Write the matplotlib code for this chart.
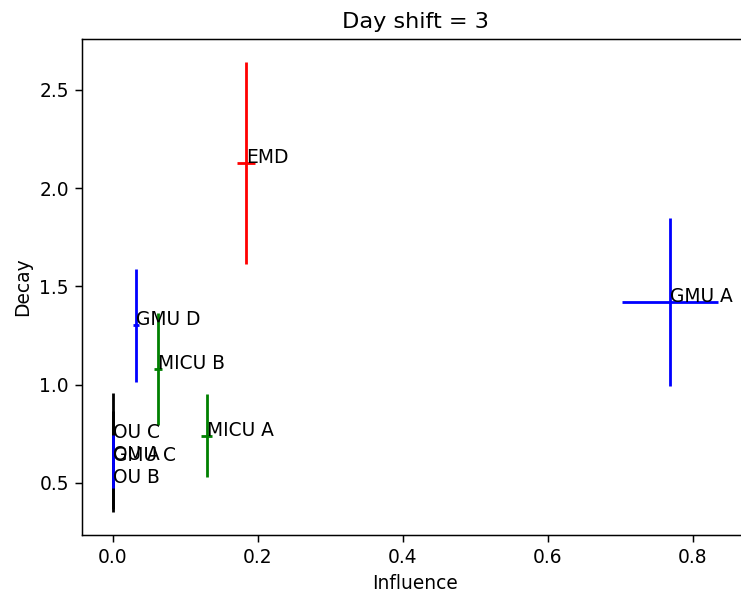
import matplotlib
matplotlib.use("Agg")
import matplotlib.pyplot as plt

names = ["OU A", "OU B", "OU C", "EMD", "GMU A", "GMU C", "GMU D", "MICU A", "MICU B"]
influence = [0.0, 0.0, 0.0, 0.183, 0.768, 0.0, 0.032, 0.129, 0.062]
decay = [0.615, 0.50, 0.73, 2.129, 1.419, 0.61, 1.302, 0.740, 1.079]
influence_err = [0.0, 0.0, 0.0, 0.0126, 0.066, 0.002, 0.004, 0.007, 0.006]
decay_err = [0.25, 0.15, 0.23, 0.513, 0.427, 0.135, 0.287, 0.211, 0.285]
colors = ["black", "black", "black", "red", "blue", "blue", "blue", "green", "green"]

DPI = 134
fig = plt.figure(figsize=(741 / DPI, 600 / DPI), dpi=DPI)
left = 82 / 741
bottom = (600 - 535) / 600
width = (748 - 82) / 741
height = (535 - 39.3) / 600
ax = fig.add_axes([left, bottom, width, height])

for n, x, y, xe, ye, c in zip(names, influence, decay, influence_err, decay_err, colors):
    ax.errorbar(x, y, xerr=xe, yerr=ye, color=c, linestyle="none")
    ax.text(x, y, n)

ax.set_xlim(-0.0428, 0.876)
ax.set_ylim(0.235, 2.758)
ax.set_title("Day shift = 3")
ax.set_xlabel("Influence")
ax.set_ylabel("Decay")
fig.savefig("out.png", dpi=DPI)
